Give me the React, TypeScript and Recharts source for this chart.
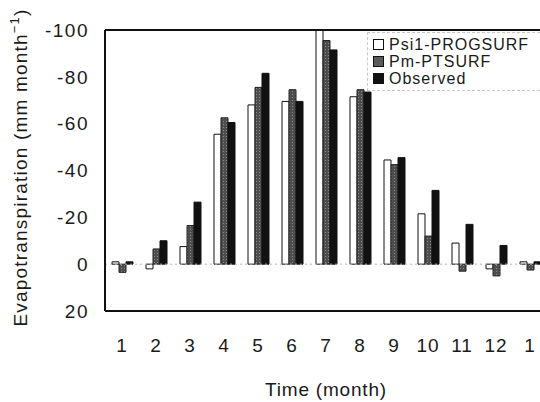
import React from "react";
import { Bar, BarChart, ReferenceLine, XAxis, YAxis } from "recharts";

const months = ["1", "2", "3", "4", "5", "6", "7", "8", "9", "10", "11", "12", "1"];
const psi1Progsurf = [-1, 2, -7.5, -55.5, -68, -69.5, -100, -71.5, -44.5, -21.5, -9, 2, -1];
const pmPtsurf = [3.5, -6.5, -16.5, -62.5, -75.5, -74.5, -95.5, -74.5, -42.5, -12, 3, 5, 2.5];
const observed = [-1, -10, -26.5, -60.5, -81.5, -69.5, -91.5, -73.5, -45.5, -31.5, -17, -8, -1];
const yTicks = [-100, -80, -60, -40, -20, 0, 20];

const data = months.map((m, i) => ({
  idx: String(i),
  month: m,
  psi: psi1Progsurf[i],
  pm: pmPtsurf[i],
  obs: observed[i],
}));

const FONT = "Arial, 'Liberation Sans', Helvetica, sans-serif";
const TEXT = "#1a1a1a";

const YTitle = ({ viewBox }: any) => {
  const cy = viewBox.y + viewBox.height / 2 - 3;
  return (
    <text
      x={27}
      y={cy}
      transform={`rotate(-90 27 ${cy})`}
      textAnchor="middle"
      fontSize={19}
      letterSpacing={1.2}
      fontFamily={FONT}
      fill={TEXT}
    >
      Evapotranspiration (mm month
      <tspan fontSize={13} dy={-8}>−1</tspan>
      <tspan dy={8}>)</tspan>
    </text>
  );
};

const legendItems = [
  { name: "Psi1-PROGSURF", fill: "#fff" },
  { name: "Pm-PTSURF", fill: "#5a5a5a" },
  { name: "Observed", fill: "#111" },
];

const LegendBox = () => (
  <div
    style={{
      position: "absolute",
      left: 367,
      top: 32,
      width: 190,
      border: "1px dashed #c8c8c8",
      padding: "3px 6px 3px 5px",
      background: "#fff",
      fontFamily: FONT,
      fontSize: 16,
      letterSpacing: 1,
      color: TEXT,
      lineHeight: "17px",
    }}
  >
    {legendItems.map((it) => (
      <div key={it.name} style={{ display: "flex", alignItems: "center" }}>
        <svg width={11} height={11} style={{ marginRight: 5 }}>
          <rect x={0.5} y={0.5} width={10} height={10} fill={it.fill} stroke="#111" />
        </svg>
        <span>{it.name}</span>
      </div>
    ))}
  </div>
);

export default function App() {
  return (
    <div
      style={{
        position: "fixed",
        left: 0,
        top: 0,
        width: 540,
        height: 402,
        overflow: "hidden",
        background: "#fff",
      }}
    >
      <BarChart
        width={560}
        height={402}
        data={data}
        margin={{ top: 30, right: 13, left: 0, bottom: 0 }}
        barGap={0}
        barSize={7}
      >
        <defs>
          <pattern id="pmDots" width="3" height="3" patternUnits="userSpaceOnUse">
            <rect width="3" height="3" fill="#4e4e4e" />
            <rect x="1" y="1" width="1" height="1" fill="#8a8a8a" />
          </pattern>
        </defs>
        <XAxis
          dataKey="idx"
          height={91}
          tickFormatter={(v: string) => months[Number(v)]}
          tickLine={false}
          tickSize={0}
          tickMargin={28}
          axisLine={{ stroke: "#111", strokeWidth: 2 }}
          tick={{ fill: TEXT, fontSize: 19, fontFamily: FONT, letterSpacing: 1 }}
          interval={0}
          label={{
            value: "Time (month)",
            position: "insideBottom",
            offset: 6,
            fill: TEXT,
            fontSize: 19,
            fontFamily: FONT,
            letterSpacing: 0.8,
          }}
        />
        <YAxis
          width={105}
          reversed
          domain={[-100, 20]}
          ticks={yTicks}
          allowDataOverflow
          tickLine={false}
          tickSize={0}
          tickMargin={16}
          axisLine={{ stroke: "#111", strokeWidth: 2 }}
          tick={{ fill: TEXT, fontSize: 19, fontFamily: FONT, letterSpacing: 1.5 }}
          label={<YTitle />}
        />
        <ReferenceLine y={0} stroke="#b5b5b5" strokeDasharray="2 3" />
        <ReferenceLine y={-100} stroke="#111" strokeWidth={2} />
        <Bar dataKey="psi" name="Psi1-PROGSURF" fill="#fff" stroke="#111" strokeWidth={1} isAnimationActive={false} />
        <Bar dataKey="pm" name="Pm-PTSURF" fill="url(#pmDots)" stroke="#222" strokeWidth={1} isAnimationActive={false} />
        <Bar dataKey="obs" name="Observed" fill="#111" stroke="#111" strokeWidth={1} isAnimationActive={false} />
      </BarChart>
      <LegendBox />
    </div>
  );
}
